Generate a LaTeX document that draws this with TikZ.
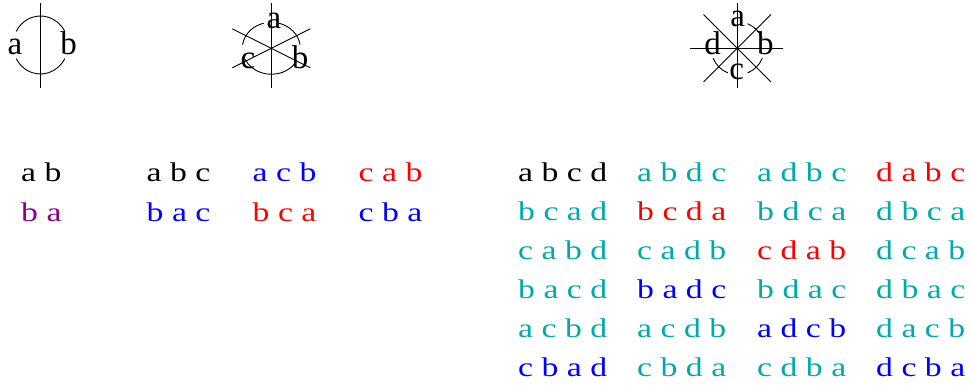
\documentclass[tikz,border=0pt]{standalone}
\usepackage{fontspec}
\setmainfont{Liberation Serif}
\newfontfamily\widefont[FakeStretch=1.25]{Liberation Serif}
\definecolor{tealc}{RGB}{0,170,170}
\definecolor{purp}{RGB}{140,0,140}
\tikzset{
  lbl/.style={inner sep=0pt, anchor=base, font=\fontsize{33}{33}\selectfont},
  perm/.style={inner sep=0pt, anchor=base west, font=\widefont\fontsize{27}{27}\selectfont},
  ln/.style={line width=0.9pt},
}
\begin{document}
\begin{tikzpicture}[x=1pt,y=-1pt]
\useasboundingbox (0,0) rectangle (972,385);
% diagram 1
\coordinate (c1) at (40.5,45);
\coordinate (t1) at (40.5,3);
\coordinate (b1) at (40.5,88);
\draw[ln] (t1) -- (b1);
\draw[ln] (c1) ++(-28:27.5 and 29) arc[start angle=-28,end angle=-152,x radius=27.5,y radius=29];
\draw[ln] (c1) ++(28:27.5 and 29) arc[start angle=28,end angle=152,x radius=27.5,y radius=29];
\node[lbl] (la1) at (15,55) {a};
\node[lbl] (lb1) at (68.5,55) {b};
% diagram 2
\coordinate (c2) at (271.3,48.3);
\coordinate (t2) at (271.3,3);
\coordinate (b2) at (271.3,88);
\coordinate (d2a) at (232.3,28.8);
\coordinate (d2b) at (310.3,67.8);
\coordinate (d2c) at (232.3,67.8);
\coordinate (d2d) at (310.3,28.8);
\draw[ln] (t2) -- (b2);
\draw[ln] (d2a) -- (d2b);
\draw[ln] (d2c) -- (d2d);
\draw[ln] (c2) ++(-8:29 and 26) arc[start angle=-8,end angle=-75,x radius=29,y radius=26];
\draw[ln] (c2) ++(-105:29 and 26) arc[start angle=-105,end angle=-172,x radius=29,y radius=26];
\draw[ln] (c2) ++(-205:29 and 26) arc[start angle=-205,end angle=-330,x radius=29,y radius=26];
\node[lbl] (la2) at (274,28.7) {a};
\node[lbl] (lb2) at (300.2,68.7) {b};
\node[lbl] (lc2) at (248,68.7) {c};
% diagram 3
\coordinate (c3) at (737.7,48.3);
\coordinate (t3) at (737.7,3);
\coordinate (b3) at (737.7,88);
\coordinate (l3) at (690,48.3);
\coordinate (r3) at (783,48.3);
\coordinate (d3a) at (703.5,14.5);
\coordinate (d3b) at (771,82);
\coordinate (d3c) at (771,14.5);
\coordinate (d3d) at (703.5,82);
\draw[ln] (t3) -- (b3);
\draw[ln] (l3) -- (r3);
\draw[ln] (d3a) -- (d3b);
\draw[ln] (d3c) -- (d3d);
\draw[ln] (c3) ++(-22:26.5) arc[start angle=-22,end angle=-68,radius=26.5];
\draw[ln] (c3) ++(22:26.5) arc[start angle=22,end angle=68,radius=26.5];
\draw[ln] (c3) ++(112:26.5) arc[start angle=112,end angle=158,radius=26.5];
\node[lbl] (la3) at (737.7,26.7) {a};
\node[lbl] (lb3) at (765.3,55) {b};
\node[lbl] (lc3) at (736.7,80) {c};
\node[lbl] (ld3) at (712.5,55) {d};
% left permutations
\node[perm] (p2a) at (21,182) {a b};
\node[perm, text=purp] (p2b) at (21,221) {b a};
\node[perm] (p3a) at (146.5,182) {a b c};
\node[perm, text=blue] (p3b) at (146.5,221) {b a c};
\node[perm, text=blue] (p3c) at (252.5,182) {a c b};
\node[perm, text=red] (p3d) at (252.5,221) {b c a};
\node[perm, text=red] (p3e) at (358.5,182) {c a b};
\node[perm, text=blue] (p3f) at (358.5,221) {c b a};
% right permutations
\node[perm] (q11) at (518,182) {a b c d};
\node[perm, text=tealc] (q12) at (637,182) {a b d c};
\node[perm, text=tealc] (q13) at (757,182) {a d b c};
\node[perm, text=red] (q14) at (876,182) {d a b c};
\node[perm, text=tealc] (q21) at (518,220.8) {b c a d};
\node[perm, text=red] (q22) at (637,220.8) {b c d a};
\node[perm, text=tealc] (q23) at (757,220.8) {b d c a};
\node[perm, text=tealc] (q24) at (876,220.8) {d b c a};
\node[perm, text=tealc] (q31) at (518,259.6) {c a b d};
\node[perm, text=tealc] (q32) at (637,259.6) {c a d b};
\node[perm, text=red] (q33) at (757,259.6) {c d a b};
\node[perm, text=tealc] (q34) at (876,259.6) {d c a b};
\node[perm, text=tealc] (q41) at (518,298.4) {b a c d};
\node[perm, text=blue] (q42) at (637,298.4) {b a d c};
\node[perm, text=tealc] (q43) at (757,298.4) {b d a c};
\node[perm, text=tealc] (q44) at (876,298.4) {d b a c};
\node[perm, text=tealc] (q51) at (518,337.2) {a c b d};
\node[perm, text=tealc] (q52) at (637,337.2) {a c d b};
\node[perm, text=blue] (q53) at (757,337.2) {a d c b};
\node[perm, text=tealc] (q54) at (876,337.2) {d a c b};
\node[perm, text=blue] (q61) at (518,376) {c b a d};
\node[perm, text=tealc] (q62) at (637,376) {c b d a};
\node[perm, text=tealc] (q63) at (757,376) {c d b a};
\node[perm, text=blue] (q64) at (876,376) {d c b a};
\end{tikzpicture}
\end{document}
